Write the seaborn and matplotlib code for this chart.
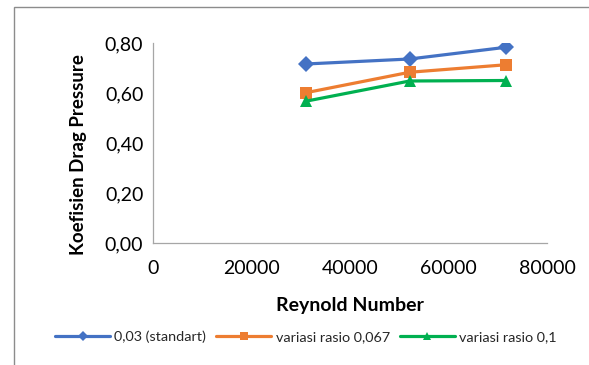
import matplotlib
matplotlib.use("Agg")
import matplotlib.pyplot as plt
import matplotlib.ticker as mticker
from matplotlib.patches import Rectangle
import seaborn as sns
import pandas as pd

# Reynolds numbers of the three test runs
reynolds = [31000, 52100, 71700]

# Pressure drag coefficient per geometry ratio
cd_standard = [0.716, 0.736, 0.783]
cd_rasio_0067 = [0.601, 0.683, 0.713]
cd_rasio_01 = [0.567, 0.648, 0.650]

series_names = ["0,03 (standart)", "variasi rasio 0,067", "variasi rasio 0,1"]
x_ticks = [0, 20000, 40000, 60000, 80000]
y_ticks = [0.0, 0.2, 0.4, 0.6, 0.8]

df = pd.DataFrame({
    "Re": reynolds * 3,
    "Cd": cd_standard + cd_rasio_0067 + cd_rasio_01,
    "series": [series_names[0]] * 3 + [series_names[1]] * 3 + [series_names[2]] * 3,
})

sns.set_theme(style="white")
plt.rcParams["font.family"] = ["Lato", "DejaVu Sans"]

fig = plt.figure(figsize=(5.89, 3.65), dpi=100)
ax = fig.add_axes([153 / 589, 122 / 365, 394 / 589, 200 / 365])

palette = {series_names[0]: "#4472C4", series_names[1]: "#ED7D31", series_names[2]: "#00B050"}
markers = {series_names[0]: "D", series_names[1]: "s", series_names[2]: "^"}

sns.lineplot(
    data=df, x="Re", y="Cd", hue="series", style="series",
    hue_order=series_names, style_order=series_names,
    palette=palette, markers=markers, dashes=False,
    linewidth=2.3, markersize=8.5, markeredgewidth=0,
    ax=ax, legend=False,
)

ax.set_xlim(0, 80000)
ax.set_ylim(0, 0.8)
ax.set_xticks(x_ticks)
ax.set_yticks(y_ticks)
ax.yaxis.set_major_formatter(mticker.FuncFormatter(lambda v, _: f"{v:.2f}".replace(".", ",")))
ax.xaxis.set_major_formatter(mticker.FuncFormatter(lambda v, _: f"{int(v)}"))

for side in ("top", "right"):
    ax.spines[side].set_visible(False)
for side in ("left", "bottom"):
    ax.spines[side].set_color("#a6a6a6")
    ax.spines[side].set_linewidth(0.9)

ax.tick_params(axis="both", which="major", direction="out", length=4, width=0.9,
               color="#a6a6a6", labelsize=14, labelcolor="#000000")
ax.tick_params(axis="x", pad=8)
ax.tick_params(axis="y", pad=3)
ax.set_facecolor("white")

ax.set_xlabel("Reynold Number", fontsize=14, fontweight="bold", color="#000000")
ax.set_ylabel("Koefisien Drag Pressure", fontsize=13.5, fontweight="bold", color="#000000")
ax.xaxis.set_label_coords(0.5, -0.315)
ax.xaxis.label.set_va("center")
ax.yaxis.set_label_coords(-0.19, 0.44)
ax.yaxis.label.set_va("center")

handles = [
    plt.Line2D([], [], color=palette[n], marker=markers[n], linewidth=2.3,
               markersize=5.5, markeredgewidth=0)
    for n in series_names
]
fig.legend(handles, series_names, loc="center", bbox_to_anchor=(306 / 589, 28 / 365),
           ncol=3, frameon=False, fontsize=10.4, handlelength=3.8, handletextpad=0.3,
           columnspacing=0.7, borderaxespad=0)

# chart area frame
fig.patches.append(Rectangle((14 / 589, -0.05), 1.0, (365 - 7) / 365 + 0.05,
                             transform=fig.transFigure, fill=False,
                             edgecolor="#8c8c8c", linewidth=1.0))

fig.savefig("out.png", dpi=100, facecolor="white")
